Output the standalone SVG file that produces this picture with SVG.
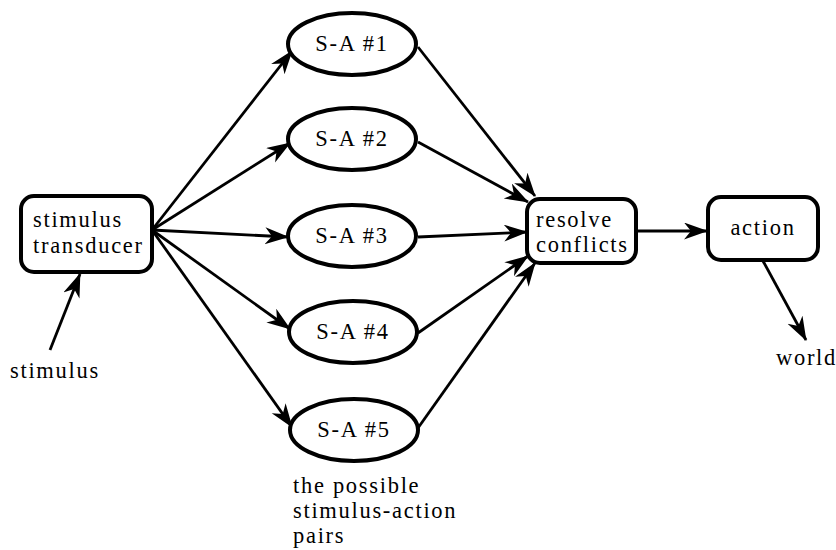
<svg xmlns="http://www.w3.org/2000/svg" width="836" height="550" viewBox="0 0 836 550">
<defs>
<marker id="ah" markerUnits="userSpaceOnUse" markerWidth="26" markerHeight="20" refX="23" refY="8.5" orient="auto">
<path d="M0,0 L24,8.5 L0,17 L7,8.5 z" fill="#000"/>
</marker>
<style>
text{font-family:"Liberation Serif","Times New Roman",serif;font-size:22.5px;letter-spacing:1.7px;fill:#000}
.box{fill:#fff;stroke:#000;stroke-width:4}
.c{fill:none;stroke:#000;stroke-width:2.8;marker-end:url(#ah)}
.m{text-anchor:middle}
</style>
</defs>
<rect width="836" height="550" fill="#fff"/>
<g id="connectors">
<line class="c" x1="50" y1="350" x2="80" y2="274"/>
<line class="c" x1="152" y1="230" x2="292" y2="51"/>
<line class="c" x1="152" y1="230" x2="290" y2="143"/>
<line class="c" x1="152" y1="230" x2="288" y2="237"/>
<line class="c" x1="152" y1="230" x2="290" y2="329"/>
<line class="c" x1="152" y1="230" x2="292" y2="427"/>
<line class="c" x1="418" y1="47" x2="535" y2="196"/>
<line class="c" x1="418" y1="142" x2="528" y2="202"/>
<line class="c" x1="418" y1="237" x2="527" y2="232"/>
<line class="c" x1="418" y1="333" x2="528" y2="256"/>
<line class="c" x1="418" y1="428" x2="535" y2="263"/>
<line class="c" x1="637" y1="231" x2="707" y2="231"/>
<line class="c" x1="763" y1="261" x2="806" y2="340"/>
</g>
<g id="transducer">
<rect class="box" x="21" y="196" width="131" height="76" rx="13"/>
<text x="33" y="227">stimulus</text>
<text x="33" y="253">transducer</text>
</g>
<g id="sa1"><ellipse class="box" cx="352" cy="44" rx="64" ry="31"/><text class="m" x="352" y="51">S-A #1</text></g>
<g id="sa2"><ellipse class="box" cx="352" cy="139" rx="64" ry="31"/><text class="m" x="352" y="146">S-A #2</text></g>
<g id="sa3"><ellipse class="box" cx="352" cy="236" rx="64" ry="31"/><text class="m" x="352" y="243">S-A #3</text></g>
<g id="sa4"><ellipse class="box" cx="353" cy="332" rx="64" ry="31"/><text class="m" x="353" y="339">S-A #4</text></g>
<g id="sa5"><ellipse class="box" cx="354" cy="430" rx="64" ry="31"/><text class="m" x="354" y="437">S-A #5</text></g>
<g id="resolve">
<rect class="box" x="527" y="199" width="109" height="64" rx="13"/>
<text x="536" y="227">resolve</text>
<text x="536" y="252">conflicts</text>
</g>
<g id="action">
<rect class="box" x="708" y="197" width="110" height="63" rx="13"/>
<text class="m" x="763" y="235">action</text>
</g>
<g id="labels">
<text x="10" y="378">stimulus</text>
<text x="776" y="365">world</text>
<text x="293" y="493">the possible</text>
<text x="293" y="518">stimulus-action</text>
<text x="293" y="543">pairs</text>
</g>
</svg>
